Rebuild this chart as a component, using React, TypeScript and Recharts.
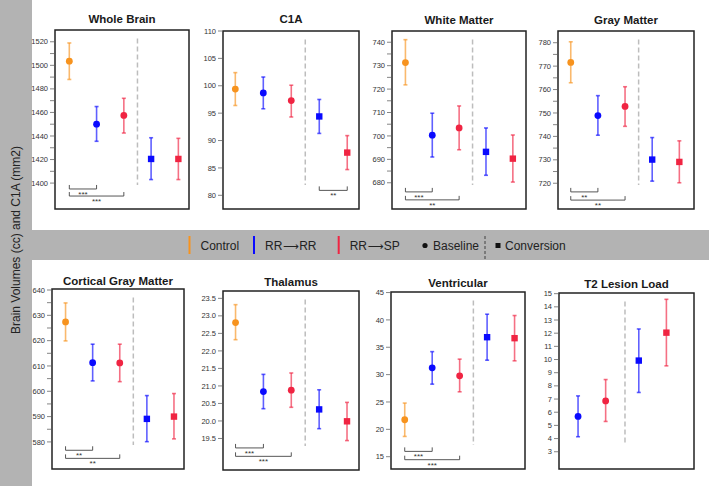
import React from "react";
import { ScatterChart, Scatter, ErrorBar, XAxis, YAxis, ReferenceLine } from "recharts";

const FONT = "'Liberation Sans', Arial, Helvetica, sans-serif";
const GRAY = "#b3b3b3";
const ORANGE = "#f7931e";
const BLUE = "#0a0aff";
const RED = "#f02442";

// groups: Control, RR→RR, RR→SP at baseline, then RR→RR, RR→SP at conversion
const groupPhase = ["Baseline", "Baseline", "Baseline", "Conversion", "Conversion"];
const groupColor = [ORANGE, BLUE, RED, BLUE, RED];
const groupX = [1, 2, 3, 4, 5];
const lesionX = [0, 1, 2, 3.2, 4.2];

const wholeBrainMean = [1503.5, 1450, 1457.5, 1420.5, 1420.5];
const wholeBrainLow = [1488, 1435.5, 1442.5, 1403, 1403];
const wholeBrainHigh = [1519, 1465, 1472, 1438.5, 1438];
const wholeBrainTicks = [1400, 1420, 1440, 1460, 1480, 1500, 1520];
const wholeBrainMinor = [1410, 1430, 1450, 1470, 1490, 1510];

const c1aMean = [99.4, 98.7, 97.3, 94.4, 87.8];
const c1aLow = [96.4, 95.8, 94.3, 91.3, 84.7];
const c1aHigh = [102.4, 101.6, 100.1, 97.5, 90.9];
const c1aTicks = [80, 85, 90, 95, 100, 105, 110];

const whiteMean = [731.3, 700.3, 703.4, 693.2, 690.3];
const whiteLow = [721.8, 691, 694.1, 683.2, 680.3];
const whiteHigh = [741.1, 709.7, 712.8, 703.4, 700.4];
const whiteTicks = [680, 690, 700, 710, 720, 730, 740];
const whiteMinor = [685, 695, 705, 715, 725, 735];

const grayMean = [771.6, 748.9, 752.8, 730.1, 729.1];
const grayLow = [762.9, 740.5, 744.3, 720.9, 720.2];
const grayHigh = [780.4, 757.4, 761.2, 739.5, 738.1];
const grayTicks = [720, 730, 740, 750, 760, 770, 780];
const grayMinor = [725, 735, 745, 755, 765, 775];

const corticalMean = [627.4, 611.3, 611.2, 589.1, 590];
const corticalLow = [619.9, 604.1, 603.8, 580.1, 581.2];
const corticalHigh = [634.9, 618.6, 618.6, 598.3, 599.1];
const corticalTicks = [580, 590, 600, 610, 620, 630, 640];
const corticalMinor = [585, 595, 605, 615, 625, 635];

const thalamusMean = [22.81, 20.84, 20.88, 20.33, 19.99];
const thalamusLow = [22.32, 20.35, 20.39, 19.78, 19.44];
const thalamusHigh = [23.32, 21.33, 21.37, 20.89, 20.53];
const thalamusTicks = [19.5, 20, 20.5, 21, 21.5, 22, 22.5, 23, 23.5];

const ventricularMean = [21.75, 31.24, 29.78, 36.84, 36.66];
const ventricularLow = [18.7, 28.26, 26.86, 32.64, 32.52];
const ventricularHigh = [24.8, 34.2, 32.83, 41.04, 40.8];
const ventricularTicks = [15, 20, 25, 30, 35, 40, 45];

const lesionMean = [null, 5.68, 6.86, 9.92, 12.04];
const lesionLow = [null, 4.14, 5.3, 7.5, 9.52];
const lesionHigh = [null, 7.24, 8.48, 12.32, 14.57];
const lesionTicks = [3, 4, 5, 6, 7, 8, 9, 10, 11, 12, 13, 14, 15];

const wholeBrainSig = [
  { from: 1, to: 2, level: 1395, label: "***" },
  { from: 1, to: 3, level: 1389, label: "***" },
];
const c1aSig = [{ from: 4, to: 5, level: 80.9, label: "**" }];
const whiteSig = [
  { from: 1, to: 2, level: 676.1, label: "***" },
  { from: 1, to: 3, level: 672.7, label: "**" },
];
const graySig = [
  { from: 1, to: 2, level: 716.3, label: "**" },
  { from: 1, to: 3, level: 712.8, label: "**" },
];
const corticalSig = [
  { from: 1, to: 2, level: 576.7, label: "**" },
  { from: 1, to: 3, level: 573.5, label: "**" },
];
const thalamusSig = [
  { from: 1, to: 2, level: 19.23, label: "***" },
  { from: 1, to: 3, level: 18.99, label: "***" },
];
const ventricularSig = [
  { from: 1, to: 2, level: 15.97, label: "***" },
  { from: 1, to: 3, level: 14.45, label: "***" },
];

const panels = [
  { title: "Whole Brain", mean: wholeBrainMean, low: wholeBrainLow, high: wholeBrainHigh, ticks: wholeBrainTicks, minor: wholeBrainMinor, sig: wholeBrainSig, x: groupX, sep: 3.5, dec: 0, yDomain: [1378, 1530], xDomain: [0.475, 5.39], box: [55, 30, 134, 179], titleY: 19 },
  { title: "C1A", mean: c1aMean, low: c1aLow, high: c1aHigh, ticks: c1aTicks, minor: [], sig: c1aSig, x: groupX, sep: 3.5, dec: 0, yDomain: [77.5, 110], xDomain: [0.56, 5.42], box: [223, 31, 136, 178], titleY: 19 },
  { title: "White Matter", mean: whiteMean, low: whiteLow, high: whiteHigh, ticks: whiteTicks, minor: whiteMinor, sig: whiteSig, x: groupX, sep: 3.5, dec: 0, yDomain: [668.8, 744.8], xDomain: [0.5, 5.49], box: [392, 31, 134, 178], titleY: 20 },
  { title: "Gray Matter", mean: grayMean, low: grayLow, high: grayHigh, ticks: grayTicks, minor: grayMinor, sig: graySig, x: groupX, sep: 3.5, dec: 0, yDomain: [709, 785], xDomain: [0.53, 5.54], box: [558, 31, 136, 178], titleY: 20 },
  { title: "Cortical Gray Matter", mean: corticalMean, low: corticalLow, high: corticalHigh, ticks: corticalTicks, minor: corticalMinor, sig: corticalSig, x: groupX, sep: 3.5, dec: 0, yDomain: [569.3, 640.4], xDomain: [0.5, 5.37], box: [52, 289, 132, 180], titleY: 281 },
  { title: "Thalamus", mean: thalamusMean, low: thalamusLow, high: thalamusHigh, ticks: thalamusTicks, minor: [], sig: thalamusSig, x: groupX, sep: 3.5, dec: 1, yDomain: [18.6, 23.71], xDomain: [0.55, 5.43], box: [223, 291, 136, 179], titleY: 282 },
  { title: "Ventricular", mean: ventricularMean, low: ventricularLow, high: ventricularHigh, ticks: ventricularTicks, minor: [], sig: ventricularSig, x: groupX, sep: 3.5, dec: 0, yDomain: [12.75, 45.1], xDomain: [0.5, 5.38], box: [391, 292, 134, 177], titleY: 283 },
  { title: "T2 Lesion Load", mean: lesionMean, low: lesionLow, high: lesionHigh, ticks: lesionTicks, minor: [], sig: [], x: lesionX, sep: 2.7, dec: 0, yDomain: [1.69, 15.05], xDomain: [0.31, 5.2], box: [559, 293, 135, 176], titleY: 284 },
];

const AxisTick = (props: any) => {
  const { x, y, payload, majors, dec } = props;
  const major = majors.includes(payload.value);
  return (
    <g>
      <line x1={x - 5} x2={x - 1} y1={y} y2={y} stroke="#666" strokeWidth={0.8} />
      {major && (
        <text x={x - 7} y={y} dy={2.6} textAnchor="end" fontSize={7.5} fill="#333" fontFamily={FONT}>
          {payload.value.toFixed(dec)}
        </text>
      )}
    </g>
  );
};

const marker = (s: any, color: string, phase: string) =>
  phase === "Conversion" ? (
    <rect x={s.cx - 3.2} y={s.cy - 3.2} width={6.4} height={6.4} fill={color} />
  ) : (
    <circle cx={s.cx} cy={s.cy} r={3.4} fill={color} />
  );

function Panel({ p }: { p: any }) {
  const [bx, by, bw, bh] = p.box;
  const padL = 45, padT = 10, padB = 6, padR = 4;
  const [y0, y1] = p.yDomain;
  const span = y1 - y0;
  const sepTop = y1 - (8.5 / bh) * span;
  const sepBottom = y0 + (24 / bh) * span;
  const allTicks = [...p.ticks, ...p.minor].sort((a, b) => a - b);

  return (
    <div style={{ position: "absolute", left: bx - padL, top: by - padT }}>
      <ScatterChart width={bw + padL + padR} height={bh + padT + padB} margin={{ top: padT, right: padR, bottom: padB, left: 0 }}>
        <XAxis type="number" dataKey="x" domain={p.xDomain} hide allowDataOverflow />
        <YAxis
          type="number"
          dataKey="y"
          domain={p.yDomain}
          allowDataOverflow
          width={padL}
          ticks={allTicks}
          interval={0}
          axisLine={false}
          tickLine={false}
          tickSize={0}
          tickMargin={0}
          tick={(t: any) => <AxisTick {...t} majors={p.ticks} dec={p.dec} />}
        />
        <ReferenceLine
          segment={[{ x: p.sep, y: sepTop }, { x: p.sep, y: sepBottom }]}
          stroke="#bdbdbd"
          strokeWidth={1.5}
          strokeDasharray="5 3"
          ifOverflow="visible"
        />
        {p.sig.map((b: any, k: number) => (
          <ReferenceLine
            key={"sig" + k}
            segment={[{ x: b.from, y: b.level }, { x: b.to, y: b.level }]}
            ifOverflow="visible"
            shape={(s: any) => (
              <g>
                <path
                  d={`M${s.x1},${s.y1 - 4}V${s.y1}H${s.x2}V${s.y2 - 4}`}
                  fill="none"
                  stroke="#444"
                  strokeWidth={0.9}
                />
                <text x={(s.x1 + s.x2) / 2} y={s.y1 + 8} textAnchor="middle" fontSize={8} fill="#333" fontFamily={FONT}>
                  {b.label}
                </text>
              </g>
            )}
          />
        ))}
        {p.mean.map((m: number | null, i: number) =>
          m == null ? null : (
            <Scatter
              key={i}
              data={[{ x: p.x[i], y: m, err: [m - p.low[i], p.high[i] - m] }]}
              dataKey="y"
              isAnimationActive={false}
              shape={(s: any) => marker(s, groupColor[i], groupPhase[i])}
            >
              <ErrorBar
                dataKey="err"
                direction="y"
                width={2}
                stroke={groupColor[i]}
                strokeWidth={1.6}
                strokeOpacity={0.65}
                isAnimationActive={false}
              />
            </Scatter>
          )
        )}
      </ScatterChart>
    </div>
  );
}

const legendGroups = [
  { from: "Control", to: "", color: ORANGE, x: 189.5 },
  { from: "RR", to: "RR", color: BLUE, x: 254 },
  { from: "RR", to: "SP", color: RED, x: 338.7 },
];

export default function App() {
  return (
    <div style={{ position: "absolute", left: 0, top: 0, width: 709, height: 486, background: GRAY, overflow: "hidden", fontFamily: FONT }}>
      <div style={{ position: "absolute", left: 32, top: 0, width: 677, height: 230, background: "#fff" }} />
      <div style={{ position: "absolute", left: 32, top: 260, width: 677, height: 226, background: "#fff" }} />
      {panels.map((p) => (
        <Panel key={p.title} p={p} />
      ))}
      <svg width={709} height={486} style={{ position: "absolute", left: 0, top: 0, pointerEvents: "none" }}>
        {panels.map((p) => {
          const [bx, by, bw, bh] = p.box;
          return (
            <g key={p.title}>
              <rect x={bx} y={by} width={bw} height={bh} fill="none" stroke="#222" strokeWidth={1.5} />
              <text x={bx + bw / 2} y={p.titleY + 4} textAnchor="middle" fontSize={11.5} fontWeight="bold" fill="#1a1a1a" fontFamily={FONT}>
                {p.title}
              </text>
            </g>
          );
        })}
        <text transform="translate(19.5,240) rotate(-90)" textAnchor="middle" fontSize={12} fill="#222" fontFamily={FONT}>
          Brain Volumes (cc) and C1A (mm2)
        </text>
        {legendGroups.map((g) => (
          <g key={g.from + g.to}>
            <line x1={g.x} x2={g.x} y1={236} y2={254} stroke={g.color} strokeWidth={2} />
            <text x={g.x + 11} y={249.8} fontSize={12} fill="#222" fontFamily={FONT}>
              {g.from}
              {g.to && (
                <>
                  <tspan fontFamily="'DejaVu Sans'" fontSize={11} dx={1}>⟶</tspan>
                  <tspan dx={0}>{g.to}</tspan>
                </>
              )}
            </text>
          </g>
        ))}
        <circle cx={425} cy={245.5} r={2.6} fill="#111" />
        <text x={433} y={249.8} fontSize={12} fill="#222" fontFamily={FONT}>
          Baseline
        </text>
        <line x1={485} x2={485} y1={236} y2={260} stroke="#333" strokeWidth={0.9} strokeDasharray="3 2" />
        <rect x={495.5} y={243} width={5} height={5} fill="#111" />
        <text x={505} y={249.8} fontSize={12} fill="#222" fontFamily={FONT}>
          Conversion
        </text>
      </svg>
    </div>
  );
}
